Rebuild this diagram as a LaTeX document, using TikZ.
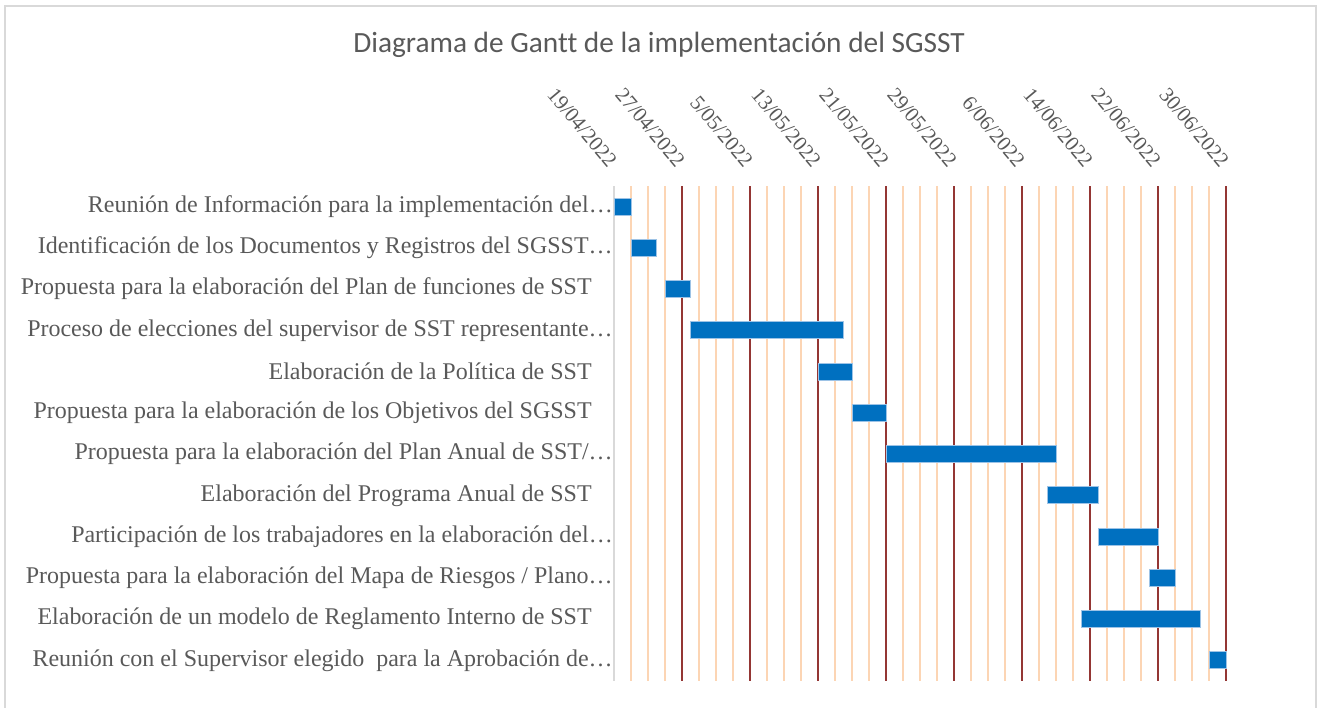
\documentclass[tikz,border=0pt]{standalone}
\usepackage{fontspec}
\setmainfont{Liberation Serif}
\newfontfamily\titlefont[Ligatures=CommonOff]{Carlito}
\usetikzlibrary{positioning}
\definecolor{txtgray}{HTML}{595959}
\definecolor{barblue}{HTML}{0070C0}
\definecolor{barline}{HTML}{9DC3E6}
\definecolor{minorline}{HTML}{FCD5B4}
\definecolor{majorline}{HTML}{943634}
\definecolor{framegray}{HTML}{D9D9D9}

\begin{document}
\begin{tikzpicture}[x=0.02cm, y=-0.02cm,
    task/.style={anchor=east, text=txtgray, inner sep=0pt, font=\fontsize{13.65}{16}\selectfont},
    datelbl/.style={anchor=east, rotate=-50, text=txtgray, inner sep=0pt, font=\fontsize{11.9}{14}\selectfont},
    bar/.style={fill=barblue, draw=barline, line width=0.5pt},
    minorgrid/.style={draw=minorline, line width=1.1pt},
    majorgrid/.style={draw=majorline, line width=1.3pt}]
    \useasboundingbox (0,0) rectangle (1317,707);
    \draw[framegray, line width=1.2pt] (5,720) -- (5,6) -- (1316,6) -- (1316,720);

    % title
    \node[text=txtgray, font=\titlefont\fontsize{16.7}{19}\selectfont] (title) at (659,45) {Diagrama de Gantt de la implementación del SGSST};

    % grid, one line every 2 days, a dark one every 8 days
    \foreach \d in {2,4,...,70} {
        \pgfmathparse{mod(\d,8)==0 ? 1 : 0}
        \ifnum\pgfmathresult=0
            \draw[minorgrid] ({614+8.5*\d},186) -- ({614+8.5*\d},681);
        \fi
    }
    \foreach \d in {8,16,...,72}
        \draw[majorgrid] ({614+8.5*\d},186) -- ({614+8.5*\d},681);
    \draw[framegray, line width=1.2pt] (614,186) -- (614,681);

    % dates
    \foreach \t [count=\k from 0] in {{19/04/2022},{27/04/2022},{5/05/2022},{13/05/2022},{21/05/2022},{29/05/2022},{6/06/2022},{14/06/2022},{22/06/2022},{30/06/2022}}
        \node[datelbl] (d\k) at ({613+68*\k},164) {\t};

    % tasks
    \node[task] (t1) at (613,206.6) {Reunión de Información para la implementación del…};
    \node[task] (t2) at (613,247.9) {Identificación de los Documentos y Registros del SGSST…};
    \node[task] (t3) at (592,289.1) {Propuesta para la elaboración del Plan de funciones de SST};
    \node[task] (t4) at (613,330.4) {Proceso de elecciones del supervisor de SST representante…};
    \node[task] (t5) at (592,371.6) {Elaboración de la Política de SST};
    \node[task] (t6) at (592,412.9) {Propuesta para la elaboración de los Objetivos del SGSST};
    \node[task] (t7) at (613,454.1) {Propuesta para la elaboración del Plan Anual de SST/…};
    \node[task] (t8) at (592,495.4) {Elaboración del Programa Anual de SST};
    \node[task] (t9) at (613,536.6) {Participación de los trabajadores en la elaboración del…};
    \node[task] (t10) at (613,577.9) {Propuesta para la elaboración del Mapa de Riesgos / Plano…};
    \node[task] (t11) at (592,619.1) {Elaboración de un modelo de Reglamento Interno de SST};
    \node[task] (t12) at (613,660.4) {Reunión con el Supervisor elegido~ para la Aprobación de…};

    % bars: start day / end day, counted from 19/04
    \foreach \s/\e [count=\i] in {0/2, 2/5, 6/9, 9/27, 24/28, 28/32, 32/52, 51/57, 57/64, 63/66, 55/69, 70/72}
        \draw[bar] ({614+8.5*\s},{186+41.25*(\i-0.5)-8.5}) rectangle ({614+8.5*\e},{186+41.25*(\i-0.5)+8.5});
\end{tikzpicture}
\end{document}
